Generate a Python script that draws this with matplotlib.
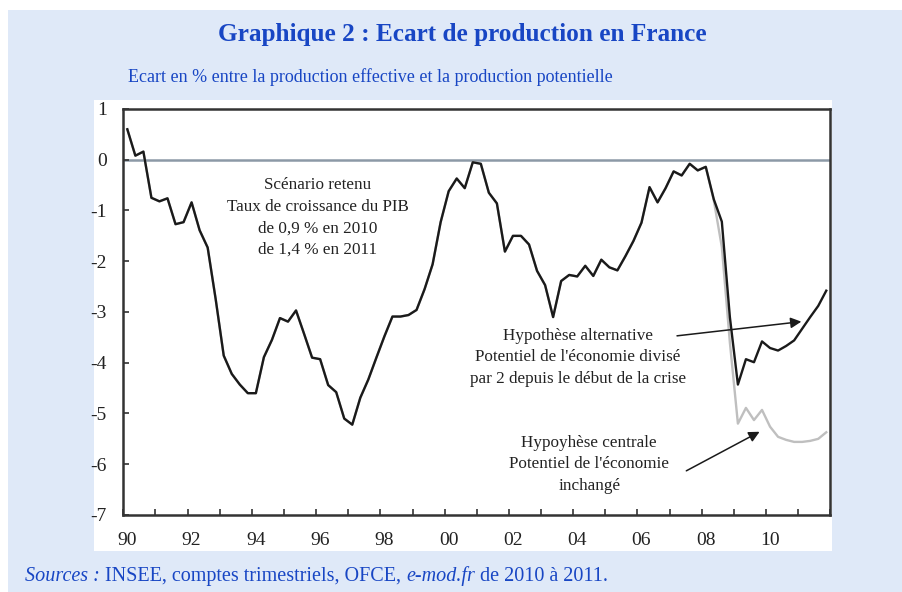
import matplotlib
matplotlib.use("Agg")
import matplotlib.pyplot as plt
from matplotlib.patches import Rectangle

plt.rcParams['font.family'] = ['Liberation Serif', 'DejaVu Serif']

# quarterly output gap, 1990Q1 .. 2011Q4
start_year = 1990
central = [0.60, 0.08, 0.16, -0.75, -0.82, -0.76, -1.27, -1.23,
           -0.84, -1.39, -1.73, -2.75, -3.86, -4.22, -4.43, -4.60,
           -4.60, -3.89, -3.55, -3.12, -3.19, -2.97, -3.43, -3.90,
           -3.93, -4.44, -4.58, -5.10, -5.22, -4.69, -4.33, -3.90,
           -3.48, -3.09, -3.09, -3.06, -2.96, -2.55, -2.06, -1.23,
           -0.62, -0.37, -0.56, -0.05, -0.08, -0.65, -0.86, -1.81,
           -1.50, -1.50, -1.67, -2.19, -2.47, -3.10, -2.39, -2.27,
           -2.30, -2.09, -2.29, -1.97, -2.12, -2.18, -1.90, -1.60,
           -1.24, -0.54, -0.84, -0.56, -0.23, -0.31, -0.08, -0.21,
           -0.14, -0.80, -1.72, -3.60, -5.20, -4.89, -5.13, -4.93,
           -5.26, -5.46, -5.52, -5.56, -5.56, -5.54, -5.50, -5.37]
alternative = central[:73] + [-0.78, -1.22, -3.10, -4.43, -3.93, -3.99, -3.58,
                              -3.71, -3.76, -3.67, -3.56, -3.33, -3.10, -2.88, -2.58]
quarters = [start_year + (i + 0.5) / 4 for i in range(len(central))]

years = list(range(1990, 2013))
label_years = list(range(1990, 2012, 2))
tick_labels = ['%02d' % (y % 100) for y in label_years]

BLUE = '#1846c4'
BG = '#dfe9f8'

fig = plt.figure(figsize=(9.02, 5.92), dpi=100, facecolor='white')
fig.patches.append(Rectangle((0.0089, 0), 0.9911, 0.9831, transform=fig.transFigure,
                             facecolor=BG, edgecolor='none', zorder=-2))
fig.patches.append(Rectangle((0.1042, 0.0693), 0.8182, 0.7618, transform=fig.transFigure,
                             facecolor='white', edgecolor='none', zorder=-1))

ax = fig.add_axes([0.1367, 0.1301, 0.7838, 0.6858])
ax.set_facecolor('white')

ax.axhline(0, color='#8c99a6', lw=1.8, zorder=1)
ax.plot(quarters, central, color='#bfbfbf', lw=1.7, zorder=2)
ax.plot(quarters, alternative, color='#1a1a1a', lw=1.7, zorder=3)

ax.set_xlim(1990, 2012)
ax.set_ylim(-7, 1)
ax.set_yticks(range(-7, 2))
ax.set_yticklabels([str(v) for v in range(-7, 2)])
ax.set_xticks(years)
ax.set_xticklabels([])
ax.set_xticks([y + 0.125 for y in label_years], minor=True)
ax.set_xticklabels(tick_labels, minor=True)
ax.tick_params(axis='both', which='major', direction='in', length=4, width=1.2,
               color='#333333', labelsize=14, labelcolor='#222222')
ax.tick_params(axis='y', pad=12)
ax.tick_params(axis='x', which='minor', length=0, pad=12, labelsize=14,
               labelcolor='#222222')
for s in ax.spines.values():
    s.set_color('#333333')
    s.set_linewidth(1.8)

txt_kw = dict(ha='center', va='center', fontsize=12.3, color='#222222',
              linespacing=1.45)
ax.text(1996.06, -1.14, "Scénario retenu\nTaux de croissance du PIB\n"
        "de 0,9 % en 2010\nde 1,4 % en 2011", **txt_kw)
ax.text(2004.14, -3.89, "Hypothèse alternative\nPotentiel de l'économie divisé\n"
        "par 2 depuis le début de la crise", **txt_kw)
ax.text(2004.5, -6.0, "Hypoyhèse centrale\nPotentiel de l'économie\ninchangé", **txt_kw)

arrow = dict(arrowstyle='-|>', color='#1a1a1a', lw=1.1, mutation_scale=16,
             shrinkA=0, shrinkB=0)
ax.annotate('', xy=(2011.1, -3.19), xytext=(2007.23, -3.47), arrowprops=arrow)
ax.annotate('', xy=(2009.8, -5.36), xytext=(2007.52, -6.13), arrowprops=arrow)

fig.text(0.513, 0.941, "Graphique 2 : Ecart de production en France",
         ha='center', va='center', fontsize=18.2, fontweight='bold', color=BLUE)
fig.text(0.142, 0.870, "Ecart en % entre la production effective et la production potentielle",
         ha='left', va='center', fontsize=13, color=BLUE)

# source line, mixed italic / roman
pieces = [("Sources :", 'italic'), (" INSEE, comptes trimestriels, OFCE, ", 'normal'),
          ("e-mod.fr", 'italic'), (" de 2010 à 2011.", 'normal')]
prev = fig.text(0.028, 0.018, pieces[0][0], ha='left', va='baseline', fontsize=14.5,
                style=pieces[0][1], color=BLUE)
for word, st in pieces[1:]:
    prev = ax.annotate(word, xy=(1, 0), xycoords=prev, xytext=(0, 0),
                       textcoords='offset points', ha='left', va='bottom',
                       fontsize=14.5, style=st, color=BLUE, annotation_clip=False)

fig.savefig('out.png', dpi=100, facecolor=fig.get_facecolor())
